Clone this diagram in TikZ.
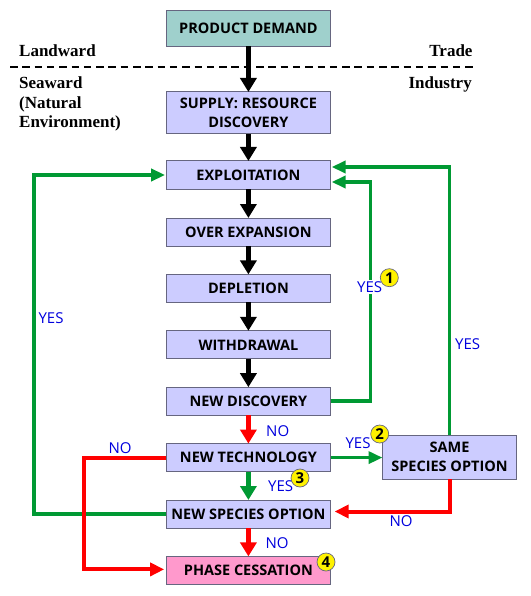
\documentclass[tikz,border=0pt]{standalone}
\usepackage{fontspec}
\setmainfont{Liberation Serif}
\setsansfont{Open Sans}
\usetikzlibrary{arrows.meta,positioning}
\definecolor{boxblue}{RGB}{204,204,255}
\definecolor{boxteal}{RGB}{159,208,204}
\definecolor{boxpink}{RGB}{255,153,204}
\definecolor{edgegray}{RGB}{102,102,128}
\definecolor{yesgreen}{RGB}{0,153,51}
\definecolor{labelblue}{RGB}{0,0,221}

\begin{document}
\begin{tikzpicture}[
  x=1pt, y=-1pt,
  box/.style={draw=edgegray, line width=1pt, outer sep=0pt, fill=boxblue, minimum height=28pt, minimum width=164.5pt, inner sep=0pt, align=center, font=\sffamily\bfseries\fontsize{14.5}{19}\selectfont},
  arr/.style={-{Triangle[length=14pt, width=16pt]}, line width=4.5pt},
  yes/.style={-{Triangle[length=14pt, width=12pt]}, line width=3.5pt, yesgreen},
  no/.style={-{Triangle[length=14pt, width=13pt]}, line width=4pt, red},
  answer/.style={text=labelblue, inner sep=1pt, font=\sffamily\fontsize{15}{15}\selectfont},
  side/.style={inner sep=0pt, anchor=base west, font=\bfseries\fontsize{17}{19.3}\selectfont},
  badge/.style={circle, draw=edgegray, line width=0.7pt, fill=yellow, minimum size=18pt, inner sep=0pt, font=\sffamily\bfseries\fontsize{15}{15}\selectfont},
  node distance=28.4pt
]
  \useasboundingbox (0,0) rectangle (530,596);

  \node[box, fill=boxteal, minimum height=36pt] (demand) at (248.4,28.5) {PRODUCT DEMAND};
  \node[box, minimum height=42pt, below=45.5pt of demand] (supply) {SUPPLY: RESOURCE\\DISCOVERY};
  \node[box, below=27pt of supply] (exploit) {EXPLOITATION};
  \node[box, below=29pt of exploit] (expansion) {OVER EXPANSION};
  \node[box, below=of expansion] (depletion) {DEPLETION};
  \node[box, below=of depletion] (withdrawal) {WITHDRAWAL};
  \node[box, below=of withdrawal] (discovery) {NEW DISCOVERY};
  \node[box, below=of discovery] (technology) {NEW TECHNOLOGY};
  \node[box, below=of technology] (species) {NEW SPECIES OPTION};
  \node[box, fill=boxpink, below=of species] (cessation) {PHASE CESSATION};
  \node[box, minimum width=134pt, minimum height=44pt] (same) at (449.5,457.3) {SAME\\SPECIES OPTION};

  % trade line
  \coordinate (lineL) at (10,67);
  \coordinate (lineR) at (477,67);
  \draw[line width=2pt, dash pattern=on 7.5pt off 4.8pt] (lineL) -- (lineR);
  \node[side] (landward) at (19,56.7) {Landward};
  \node[side, anchor=base east] (trade) at (472.7,56.7) {Trade};
  \node[side] (seaward) at (19,89) {Seaward};
  \node[side] (natural) at (19,108.5) {(Natural};
  \node[side] (environment) at (19,127.7) {Environment)};
  \node[side, anchor=base east] (industry) at (472,89) {Industry};

  \draw[arr] (demand) -- (supply);
  \draw[arr] (supply) -- (exploit);
  \draw[arr] (exploit) -- (expansion);
  \draw[arr] (expansion) -- (depletion);
  \draw[arr] (depletion) -- (withdrawal);
  \draw[arr] (withdrawal) -- (discovery);

  % green loops
  \coordinate (loopL) at (34,300);
  \coordinate (loopM) at (370.5,300);
  \draw[yes] (species.west) -| (loopL) |- ([xshift=-1pt]exploit.west);
  \draw[yes] (discovery.east) -| (loopM) |- ([xshift=1pt, yshift=-7pt]exploit.east);
  \draw[yes] (same.north) |- ([xshift=1pt, yshift=8pt]exploit.east);
  \draw[yes] (technology.east) -- (technology.east -| same.west);
  \draw[arr, yesgreen] (technology) -- (species);

  % red paths
  \coordinate (sameB) at (449.5,511.5);
  \coordinate (techL) at (83.5,500);
  \draw[arr, red] (discovery) -- (technology);
  \draw[arr, red] (species) -- (cessation);
  \draw[no] (same.south) -- (sameB) -- ([xshift=4pt]species.east |- sameB);
  \draw[no] (technology.west) -| (techL) |- ([xshift=-2pt, yshift=1pt]cessation.west);

  \node[answer, fill=white] (yes1) at (369.7,287) {YES};
  \node[answer] (yes2) at (467.7,344) {YES};
  \node[answer] (yes3) at (51,318) {YES};
  \node[answer] (yes4) at (358,442.7) {YES};
  \node[answer] (yes5) at (280.7,486) {YES};
  \node[answer] (no1) at (277.7,430.7) {NO};
  \node[answer] (no2) at (120,448) {NO};
  \node[answer] (no3) at (277,543) {NO};
  \node[answer] (no4) at (401,521) {NO};

  \node[badge] (one) at (389.3,277.7) {1};
  \node[badge] (two) at (379.7,434) {2};
  \node[badge] (three) at (300,478) {3};
  \node[badge] (four) at (326,562) {4};
\end{tikzpicture}
\end{document}
